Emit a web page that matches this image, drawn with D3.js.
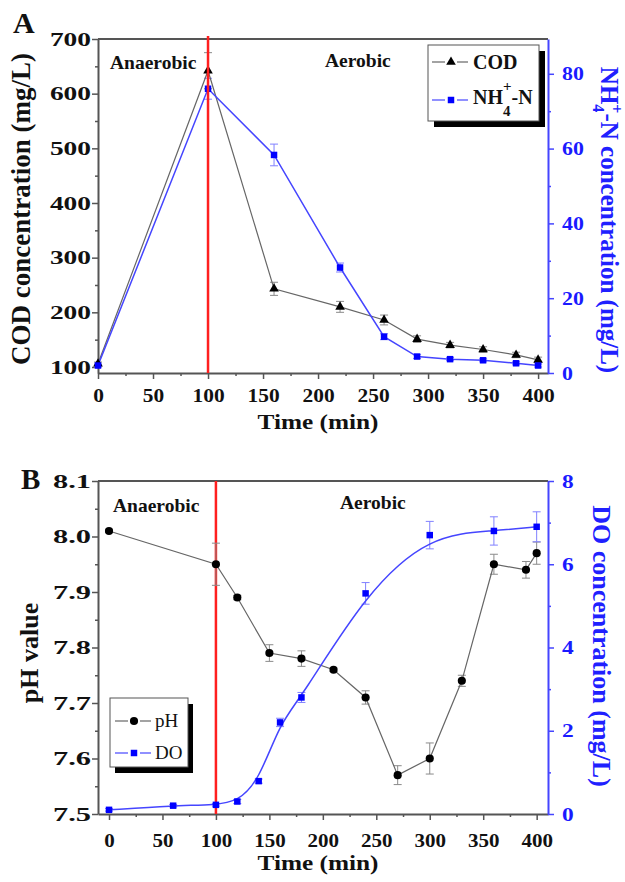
<!DOCTYPE html>
<html>
<head>
<meta charset="utf-8">
<script src="https://cdn.jsdelivr.net/npm/d3@7"></script>
<style>
  body { margin: 0; background: #fff; }
  svg { display: block; font-family: "Liberation Serif", "Times New Roman", serif; }
</style>
</head>
<body>
<div id="chart"></div>
<script>
// Panel A: COD and NH4+-N over time
const timeA = [0, 100, 160, 220, 260, 290, 320, 350, 380, 400];
const cod = [106, 642, 243, 210, 186, 151, 140, 132, 122, 113];
const codErr = [3, 33, 12, 10, 9, 6, 5, 5, 5, 5];
const nh4 = [2, 76, 58.3, 28.2, 9.7, 4.4, 3.7, 3.4, 2.6, 2];
const nh4Err = [0.4, 2.8, 2.9, 1.2, 0.8, 0.5, 0.4, 0.4, 0.4, 0.4];
const ticksXA = [0, 50, 100, 150, 200, 250, 300, 350, 400];
const ticksCod = [100, 200, 300, 400, 500, 600, 700];
const ticksNh4 = [0, 20, 40, 60, 80];

// Panel B: pH and DO over time
const timePH = [0, 100, 120, 150, 180, 210, 240, 270, 300, 330, 360, 390, 400];
const ph = [8.01, 7.95, 7.89, 7.79, 7.78, 7.76, 7.71, 7.57, 7.60, 7.74, 7.95, 7.94, 7.97];
const phErr = [0.003, 0.038, 0.004, 0.015, 0.014, 0.003, 0.012, 0.017, 0.028, 0.01, 0.018, 0.015, 0.02];
const timeDO = [0, 60, 100, 120, 140, 160, 180, 240, 300, 360, 400];
const dO = [0.1, 0.2, 0.22, 0.3, 0.79, 2.2, 2.8, 5.3, 6.7, 6.8, 6.9];
const doErr = [0.03, 0.03, 0.03, 0.05, 0.05, 0.1, 0.12, 0.26, 0.33, 0.34, 0.36];
const ticksXB = [0, 50, 100, 150, 200, 250, 300, 350, 400];
const ticksPH = [7.5, 7.6, 7.7, 7.8, 7.9, 8.0, 8.1];
const ticksDO = [0, 2, 4, 6, 8];

const switchTime = 100;

const gray = '#555', blue = '#4545ff', blueText = '#1a1aff', red = '#ff1f1f';
const serif = '"Liberation Serif", "Times New Roman", serif';

const svg = d3.select('#chart').append('svg')
    .attr('width', 625)
    .attr('height', 882);

// Scales
const xA = d3.scaleLinear().domain([0, 409]).range([98, 548]);
const yCod = d3.scaleLinear().domain([89, 700]).range([373, 39]);
const yNh4 = d3.scaleLinear().domain([0, 89.3]).range([373, 39]);

const xB = d3.scaleLinear().domain([-10.3, 410.6]).range([98, 548]);
const yPH = d3.scaleLinear().domain([7.5, 8.1]).range([814, 481]);
const yDO = d3.scaleLinear().domain([0, 8]).range([814, 481]);

// Axis helper: major ticks with labels + minor ticks
function addAxis(gen, minorGen, transform, color, textColor, lenFn) {
    const g = svg.append('g').attr('transform', transform).call(gen);
    g.attr('font-family', serif).attr('font-size', 19);
    g.select('.domain').attr('stroke', color).attr('stroke-width', 2);
    g.selectAll('.tick line').attr('stroke', color).attr('stroke-width', 1.5);
    g.selectAll('.tick text')
        .attr('fill', textColor)
        .attr('font-weight', 'bold')
        .attr('textLength', lenFn)
        .attr('lengthAdjust', 'spacingAndGlyphs');
    const m = svg.append('g').attr('transform', transform).call(minorGen);
    m.select('.domain').remove();
    m.selectAll('.tick line').attr('stroke', color).attr('stroke-width', 1.5);
    return g;
}

const minorRange = (a, b, s) => d3.range(a, b + s / 2, s);

// ---------- Panel A ----------
svg.append('line').attr('x1', 98).attr('x2', 548).attr('y1', 39).attr('y2', 39)
    .attr('stroke', gray).attr('stroke-width', 2);

addAxis(d3.axisBottom(xA).tickValues(ticksXA).tickSize(6).tickPadding(10).tickSizeOuter(0),
    d3.axisBottom(xA).tickValues(minorRange(25, 400, 50)).tickSize(3).tickFormat(''),
    'translate(0,373)', gray, '#111', d => String(d).length * 10.7);

addAxis(d3.axisLeft(yCod).tickValues(ticksCod).tickSize(6).tickPadding(1).tickSizeOuter(0),
    d3.axisLeft(yCod).tickValues(minorRange(150, 650, 100)).tickSize(3).tickFormat(''),
    'translate(98,0)', gray, '#111', d => String(d).length * 13.7);

addAxis(d3.axisRight(yNh4).tickValues(ticksNh4).tickSize(6).tickPadding(8).tickSizeOuter(0),
    d3.axisRight(yNh4).tickValues(minorRange(10, 70, 20)).tickSize(3).tickFormat(''),
    'translate(548,0)', blue, blueText, d => String(d).length * 10.9);

// Series A
function errorBars(xs, ys, errs, x, y, color) {
    const g = svg.append('g').attr('stroke', color).attr('stroke-width', 1);
    xs.forEach((t, i) => {
        const cx = x(t), y0 = y(ys[i] - errs[i]), y1 = y(ys[i] + errs[i]);
        g.append('line').attr('x1', cx).attr('x2', cx).attr('y1', y0).attr('y2', y1);
        g.append('line').attr('x1', cx - 4).attr('x2', cx + 4).attr('y1', y0).attr('y2', y0);
        g.append('line').attr('x1', cx - 4).attr('x2', cx + 4).attr('y1', y1).attr('y2', y1);
    });
}

const lineCod = d3.line().x((d, i) => xA(timeA[i])).y(d => yCod(d));
const lineNh4 = d3.line().x((d, i) => xA(timeA[i])).y(d => yNh4(d));

errorBars(timeA, cod, codErr, xA, yCod, '#8a8a8a');
errorBars(timeA, nh4, nh4Err, xA, yNh4, '#8080ff');

svg.append('path').datum(cod).attr('d', lineCod)
    .attr('fill', 'none').attr('stroke', '#666').attr('stroke-width', 1.2);
svg.append('path').datum(nh4).attr('d', lineNh4)
    .attr('fill', 'none').attr('stroke', blue).attr('stroke-width', 1.5);

const tri = d3.symbol().type(d3.symbolTriangle).size(40);
const sq = d3.symbol().type(d3.symbolSquare).size(42);
const circ = d3.symbol().type(d3.symbolCircle).size(52);

svg.append('g').selectAll('path').data(cod).join('path')
    .attr('d', tri)
    .attr('transform', (d, i) => `translate(${xA(timeA[i])},${yCod(d)})`)
    .attr('fill', '#000');
svg.append('g').selectAll('path').data(nh4).join('path')
    .attr('d', sq)
    .attr('transform', (d, i) => `translate(${xA(timeA[i])},${yNh4(d)})`)
    .attr('fill', '#0000ff');

// Red divider A (drawn on top)
svg.append('line')
    .attr('x1', xA(switchTime)).attr('x2', xA(switchTime))
    .attr('y1', 36).attr('y2', 373)
    .attr('stroke', red).attr('stroke-width', 2.5);

// Phase labels A
svg.append('text').attr('x', 110).attr('y', 69).text('Anaerobic')
    .attr('font-size', 19.5).attr('font-weight', 'bold').attr('fill', '#111');
svg.append('text').attr('x', 325).attr('y', 67).text('Aerobic')
    .attr('font-size', 19.5).attr('font-weight', 'bold').attr('fill', '#111');

// Panel label
svg.append('text').attr('x', 13).attr('y', 33).text('A')
    .attr('font-size', 30).attr('font-weight', 'bold').attr('fill', '#111');

// Axis titles A
svg.append('text').attr('transform', 'translate(318,429)').attr('text-anchor', 'middle')
    .attr('font-size', 20).attr('font-weight', 'bold').attr('fill', '#111')
    .attr('textLength', 121).attr('lengthAdjust', 'spacingAndGlyphs')
    .text('Time (min)');
svg.append('text').attr('transform', 'translate(30,209) rotate(-90)').attr('text-anchor', 'middle')
    .attr('font-size', 27).attr('font-weight', 'bold').attr('fill', '#111')
    .text('COD concentration (mg/L)');
const nhTitle = svg.append('text').attr('transform', 'translate(601,220) rotate(90)')
    .attr('text-anchor', 'middle')
    .attr('font-size', 25).attr('font-weight', 'bold').attr('fill', '#2020ff');
nhTitle.append('tspan').text('NH');
nhTitle.append('tspan').attr('font-size', 16).attr('dy', 8).text('4');
nhTitle.append('tspan').attr('font-size', 16).attr('dx', -8).attr('dy', -18).text('+');
nhTitle.append('tspan').attr('dy', 10).text('-N concentration (mg/L)');

// Legend A
svg.append('rect').attr('x', 434).attr('y', 51).attr('width', 111).attr('height', 76).attr('fill', '#000');
svg.append('rect').attr('x', 428).attr('y', 45).attr('width', 111).attr('height', 76)
    .attr('fill', '#fff').attr('stroke', gray).attr('stroke-width', 1);

function legendEntry(x0, y, color, sym, fill) {
    svg.append('line').attr('x1', x0).attr('x2', x0 + 13).attr('y1', y).attr('y2', y)
        .attr('stroke', color).attr('stroke-width', 1.2);
    svg.append('line').attr('x1', x0 + 25).attr('x2', x0 + 36).attr('y1', y).attr('y2', y)
        .attr('stroke', color).attr('stroke-width', 1.2);
    svg.append('path').attr('d', sym).attr('transform', `translate(${x0 + 19},${y})`).attr('fill', fill);
}
legendEntry(432, 62, '#666', tri, '#000');
legendEntry(432, 100, blue, sq, '#0000ff');
svg.append('text').attr('x', 473).attr('y', 69).text('COD')
    .attr('font-size', 20).attr('font-weight', 'bold').attr('fill', '#111');
const nhLeg = svg.append('text').attr('x', 473).attr('y', 104)
    .attr('font-size', 20).attr('font-weight', 'bold').attr('fill', '#111');
nhLeg.append('tspan').text('NH');
nhLeg.append('tspan').attr('font-size', 15).attr('dy', 12).text('4');
nhLeg.append('tspan').attr('font-size', 15).attr('dx', -7.5).attr('dy', -25).text('+');
nhLeg.append('tspan').attr('dy', 13).text('-N');

// ---------- Panel B ----------
svg.append('line').attr('x1', 98).attr('x2', 548).attr('y1', 481).attr('y2', 481)
    .attr('stroke', gray).attr('stroke-width', 2);

addAxis(d3.axisBottom(xB).tickValues(ticksXB).tickSize(6).tickPadding(14).tickSizeOuter(0),
    d3.axisBottom(xB).tickValues(minorRange(25, 400, 50)).tickSize(3).tickFormat(''),
    'translate(0,814)', gray, '#111', d => String(d).length * 10.5);

addAxis(d3.axisLeft(yPH).tickValues(ticksPH).tickSize(6).tickPadding(1).tickSizeOuter(0)
        .tickFormat(d3.format('.1f')),
    d3.axisLeft(yPH).tickValues(minorRange(7.55, 8.05, 0.1)).tickSize(3).tickFormat(''),
    'translate(98,0)', gray, '#111', () => 38);

addAxis(d3.axisRight(yDO).tickValues(ticksDO).tickSize(6).tickPadding(8).tickSizeOuter(0),
    d3.axisRight(yDO).tickValues(minorRange(1, 7, 2)).tickSize(3).tickFormat(''),
    'translate(548,0)', blue, blueText, () => 11.7);

// Red divider B (below series)
svg.append('line')
    .attr('x1', xB(switchTime)).attr('x2', xB(switchTime))
    .attr('y1', 481).attr('y2', 814)
    .attr('stroke', red).attr('stroke-width', 2.5);

errorBars(timePH, ph, phErr, xB, yPH, '#8a8a8a');
errorBars(timeDO, dO, doErr, xB, yDO, '#8080ff');

const linePH = d3.line().x((d, i) => xB(timePH[i])).y(d => yPH(d));
const lineDO = d3.line().x((d, i) => xB(timeDO[i])).y(d => yDO(d)).curve(d3.curveBasis);

svg.append('path').datum(ph).attr('d', linePH)
    .attr('fill', 'none').attr('stroke', '#666').attr('stroke-width', 1.2);
svg.append('path').datum(dO).attr('d', lineDO)
    .attr('fill', 'none').attr('stroke', blue).attr('stroke-width', 1.5);

svg.append('g').selectAll('path').data(ph).join('path')
    .attr('d', circ)
    .attr('transform', (d, i) => `translate(${xB(timePH[i])},${yPH(d)})`)
    .attr('fill', '#000');
svg.append('g').selectAll('path').data(dO).join('path')
    .attr('d', sq)
    .attr('transform', (d, i) => `translate(${xB(timeDO[i])},${yDO(d)})`)
    .attr('fill', '#0000ff');

// Phase labels B
svg.append('text').attr('x', 113).attr('y', 512).text('Anaerobic')
    .attr('font-size', 19.5).attr('font-weight', 'bold').attr('fill', '#111');
svg.append('text').attr('x', 340).attr('y', 509).text('Aerobic')
    .attr('font-size', 19.5).attr('font-weight', 'bold').attr('fill', '#111');

svg.append('text').attr('x', 21).attr('y', 489).text('B')
    .attr('font-size', 29).attr('font-weight', 'bold').attr('fill', '#111');

// Axis titles B
svg.append('text').attr('transform', 'translate(318,870)').attr('text-anchor', 'middle')
    .attr('font-size', 20).attr('font-weight', 'bold').attr('fill', '#111')
    .attr('textLength', 121).attr('lengthAdjust', 'spacingAndGlyphs')
    .text('Time (min)');
svg.append('text').attr('transform', 'translate(38,653) rotate(-90)').attr('text-anchor', 'middle')
    .attr('font-size', 26).attr('font-weight', 'bold').attr('fill', '#111')
    .text('pH value');
svg.append('text').attr('transform', 'translate(593,646) rotate(90)').attr('text-anchor', 'middle')
    .attr('font-size', 26).attr('font-weight', 'bold').attr('fill', '#2020ff')
    .text('DO concentration (mg/L)');

// Legend B
svg.append('rect').attr('x', 115).attr('y', 704).attr('width', 78).attr('height', 69).attr('fill', '#000');
svg.append('rect').attr('x', 110).attr('y', 698).attr('width', 78).attr('height', 69)
    .attr('fill', '#fff').attr('stroke', gray).attr('stroke-width', 1);
legendEntry(115, 721, '#666', circ, '#000');
legendEntry(115, 753, blue, sq, '#0000ff');
svg.append('text').attr('x', 155).attr('y', 727).text('pH')
    .attr('font-size', 19).attr('fill', '#111');
svg.append('text').attr('x', 155).attr('y', 759).text('DO')
    .attr('font-size', 19).attr('fill', '#111');
</script>
</body>
</html>
